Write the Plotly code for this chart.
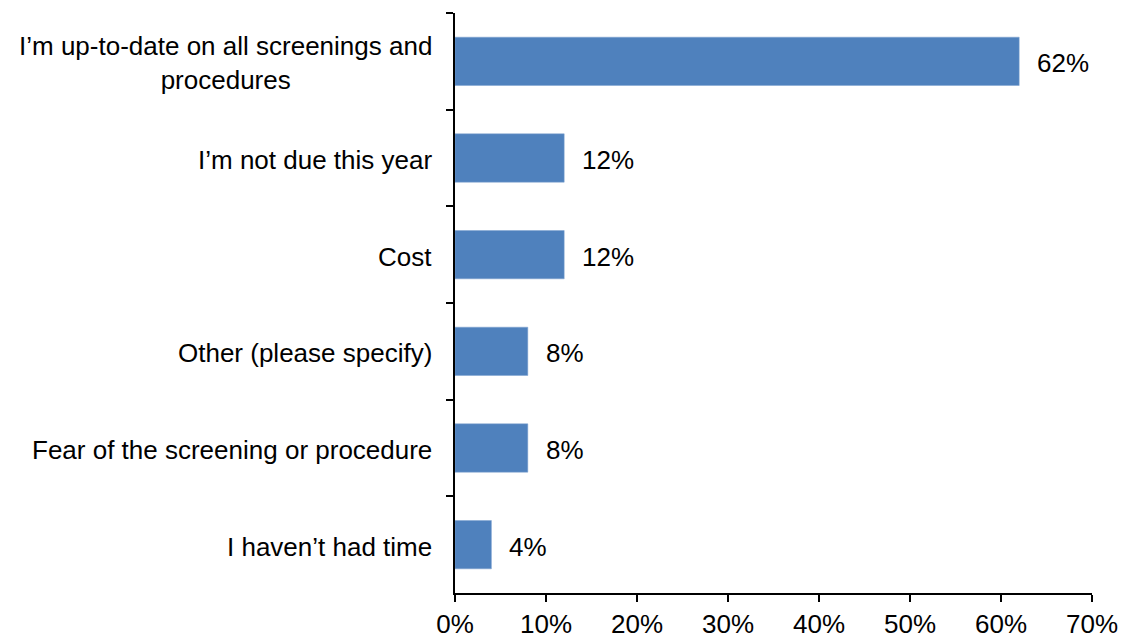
import plotly.graph_objects as go

categories = [
    "I’m up-to-date on all screenings and<br>procedures",
    "I’m not due this year",
    "Cost",
    "Other (please specify)",
    "Fear of the screening or procedure",
    "I haven’t had time",
]
values = [62, 12, 12, 8, 8, 4]
value_labels = ["62%", "12%", "12%", "8%", "8%", "4%"]
x_tickvals = [0, 10, 20, 30, 40, 50, 60, 70]
x_ticktext = ["0%", "10%", "20%", "30%", "40%", "50%", "60%", "70%"]

FONT = "Liberation Sans, Arial, sans-serif"
FS = 26

fig = go.Figure()
fig.add_trace(go.Bar(
    x=values, y=categories, orientation="h",
    marker=dict(color="#4F81BD", line=dict(color="#7FA3D1", width=0.5)),
    width=0.5, showlegend=False, hoverinfo="skip",
))

annotations = []
for c, v, t in zip(categories, values, value_labels):
    annotations.append(dict(x=v, y=c, xref="x", yref="y", text=t, showarrow=False,
                            xanchor="left", yanchor="middle", xshift=16, yshift=-2,
                            font=dict(family=FONT, size=FS, color="#000")))
    annotations.append(dict(x=0, y=c, xref="paper", yref="y", text=c, showarrow=False,
                            xanchor="right", yanchor="middle", xshift=-21, yshift=-2,
                            align="center",
                            font=dict(family=FONT, size=FS, color="#000")))

fig.update_layout(
    width=1120, height=636,
    margin=dict(l=447, r=36, t=5, b=47),
    paper_bgcolor="white", plot_bgcolor="white",
    font=dict(family=FONT, size=FS, color="#000"),
    bargap=0.5,
    annotations=annotations,
    xaxis=dict(range=[0, 70], tickvals=x_tickvals, ticktext=x_ticktext,
               showgrid=False, zeroline=False, showline=True, linecolor="#000", linewidth=1.5,
               ticks="outside", ticklen=7, tickwidth=1.5, tickcolor="#000",
               tickfont=dict(family=FONT, size=FS, color="#000")),
    yaxis=dict(categoryorder="array", categoryarray=categories, autorange="reversed",
               showgrid=False, zeroline=False, showline=True, linecolor="#000", linewidth=1.5,
               ticks="outside", ticklen=7, tickwidth=1.5, tickcolor="#000",
               tickson="boundaries", showticklabels=False),
)

fig.write_html("out.html")
